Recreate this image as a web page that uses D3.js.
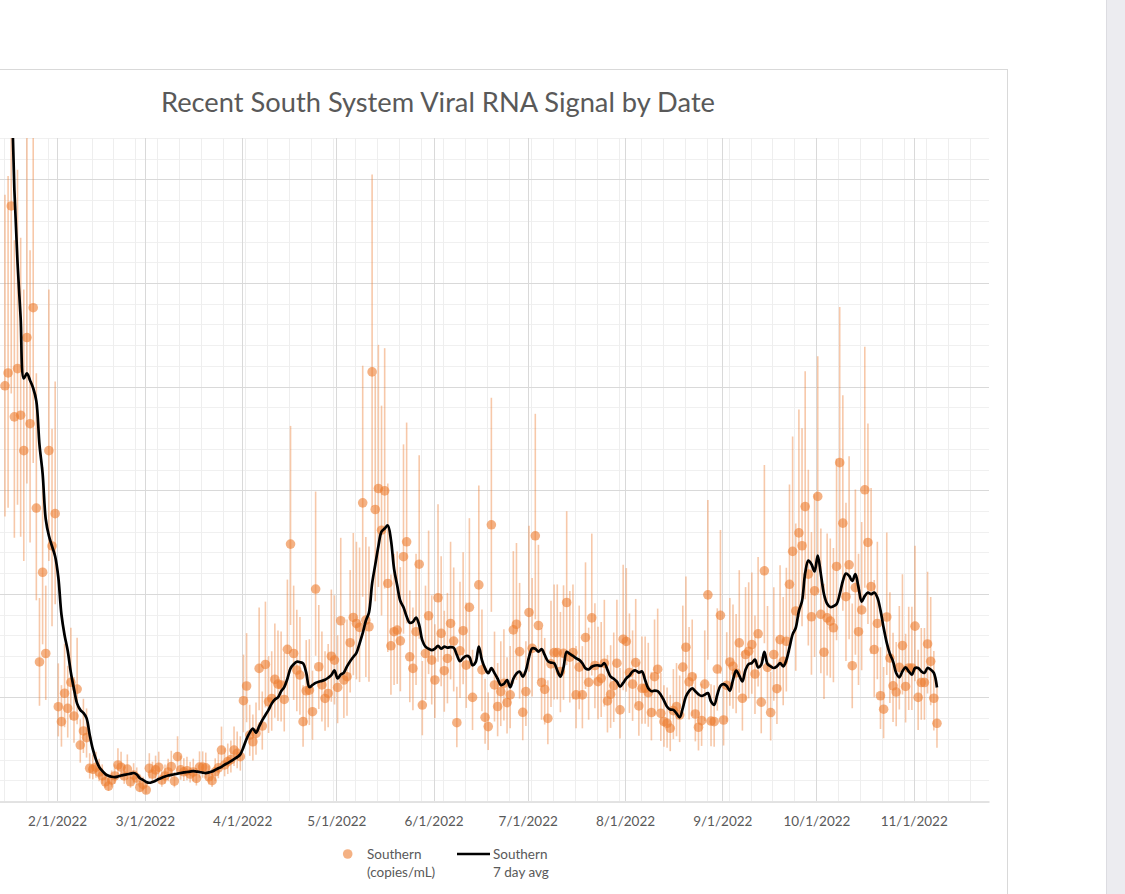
<!DOCTYPE html>
<html><head><meta charset="utf-8">
<script src="https://cdn.jsdelivr.net/npm/d3@7"></script>
<style>
html,body{margin:0;padding:0;background:#fff;overflow:hidden}
svg{display:block}
</style></head><body>
<svg id="c" width="1125" height="894"></svg>
<script>
// ---------- DATA ----------
const firstSampleDay = [2022, 0, 15];   // 1/15/2022, one sample per day after that
const southern = [
 2004,2066,2872,1854,2087,1862,1691,2237,1821,2381,
 1414,671,1104,712,1691,1231,1387,455,383,520,
 447,573,410,540,270,338,306,158,153,163,
 140,121,93,72,101,121,174,163,121,154,
 93,125,111,66,80,53,158,130,150,163,
 101,121,140,166,96,214,150,141,146,130,
 140,109,164,164,160,117,98,141,160,246,
 174,190,200,246,230,214,484,555,318,286,
 326,640,362,659,479,495,587,564,560,490,
 732,1240,712,632,608,383,532,535,431,1023,
 648,560,495,519,699,680,548,870,584,600,
 764,886,857,838,1439,873,841,2071,1407,1508,
 1307,1497,1050,749,817,825,773,1179,1251,696,
 640,817,1143,463,712,894,680,584,981,809,
 629,688,857,772,378,725,822,656,935,500,
 null,1043,633,404,359,1333,560,456,528,568,
 475,512,826,853,721,428,528,910,737,1280,
 847,572,539,399,662,716,716,625,713,958,
 694,716,512,646,512,789,573,884,654,576,
 592,665,483,515,557,665,440,781,770,620,
 564,668,459,544,544,523,427,600,636,423,
 383,375,351,436,456,415,646,742,575,600,
 420,356,388,564,995,386,383,637,896,391,
 558,671,650,618,763,496,707,723,755,613,
 807,477,1111,645,427,707,542,779,674,771,
 1046,1205,917,1294,1232,1421,1095,889,1014,1470,
 901,718,884,868,836,1132,1633,1341,986,1140,
 653,1030,817,922,1502,1248,1035,731,857,508,
 443,888,690,556,526,645,750,553,642,642,
 844,500,572,572,758,674,496,375
];
const southernAvg7 = [
 4300,3900,3500,2950,2600,2330,2040,2064,2030,1992,
 1930,1720,1580,1360,1280,1230,1180,1080,900,800,
 725,620,540,470,440,425,400,320,250,200,
 165,145,130,122,117,115,118,123,126,129,
 132,135,128,110,102,92,88,92,98,106,
 112,118,123,126,129,132,135,138,140,142,
 144,142,140,137,135,138,142,150,158,165,
 175,183,192,202,212,225,260,300,330,350,
 330,360,390,415,440,470,490,500,530,550,
 590,640,660,672,670,664,620,550,560,570,
 576,580,585,595,608,630,592,610,620,650,
 675,695,715,760,810,870,910,1050,1140,1230,
 1300,1315,1330,1260,1120,1040,965,935,890,860,
 865,885,850,775,745,735,728,735,749,735,
 745,740,743,740,705,675,690,700,695,655,
 670,745,680,640,617,641,617,590,560,565,
 584,549,590,615,625,600,630,695,737,735,
 721,733,705,675,668,665,630,600,645,720,
 710,700,689,681,665,640,635,648,654,655,
 652,665,633,600,590,576,552,570,592,605,
 625,630,620,625,584,544,530,533,530,512,
 485,455,442,440,423,404,448,504,530,544,
 530,515,507,513,521,480,464,513,556,564,
 555,532,585,629,606,577,634,661,666,682,
 645,658,720,661,650,642,650,665,650,680,
 740,804,836,917,965,1100,1160,1143,1108,1184,
 1095,998,952,936,940,950,998,1062,1098,1087,
 1062,1095,1030,962,990,1006,998,1006,982,920,
 836,763,710,674,618,597,626,645,626,610,
 642,642,626,618,642,634,618,548
];
// month labels visible in the crop (the Jan label and y labels lie off the left edge)
const monthTickLabels = ['2/1/2022','3/1/2022','4/1/2022','5/1/2022','6/1/2022',
  '7/1/2022','8/1/2022','9/1/2022','10/1/2022','11/1/2022'];
const yGridValues = [500,1000,1500,2000,2500,3000];
const yMax = 3200, yMinorStep = 100;
const errPlusPct = 46, errMinusPct = 31.5;   // error bar extent
const axisStart = '2022-01-01', axisEnd = '2022-11-25';
const titleText = 'Recent South System Viral RNA Signal by Date';
const legendDots = ['Southern', '(copies/mL)'];
const legendLine = ['Southern', '7 day avg'];

// ---------- LAYOUT ----------
const svg = d3.select('#c');
const FONT = 'Lato, "Open Sans", sans-serif';
const TXT = '#595959';
const dayPx = 856.7 / 273;
const plotTop = 138, plotBottom = 801;
const xFeb1 = 57;
const parse = s => { const [y,m,d] = s.split('-').map(Number); return new Date(Date.UTC(y, m-1, d)); };
const d0 = parse(axisStart), d1 = parse(axisEnd);
const plotLeft = xFeb1 - 31 * dayPx;
const plotRight = plotLeft + ((d1 - d0) / 864e5) * dayPx;

const x = d3.scaleUtc().domain([d0, d1]).range([plotLeft, plotRight]);
const y = d3.scaleLinear().domain([0, yMax]).range([plotBottom, plotTop]);

// page strip on the right
svg.append('rect').attr('x', 1106).attr('y', 0).attr('width', 19).attr('height', 894).attr('fill', '#ececf0');
svg.append('line').attr('x1', 1106.5).attr('x2', 1106.5).attr('y1', 0).attr('y2', 894).attr('stroke', '#dcdce1');

// chart area frame
svg.append('rect').attr('x', -200).attr('y', 69.5).attr('width', 1207.5).attr('height', 1000)
  .attr('fill', '#fff').attr('stroke', '#d9d9d9').attr('stroke-width', 1);

// title
svg.append('text').attr('x', 438).attr('y', 111.5).attr('text-anchor', 'middle')
  .attr('font-family', FONT).attr('font-size', 26).attr('fill', TXT)
  .attr('textLength', 554).attr('lengthAdjust', 'spacingAndGlyphs')
  .text(titleText);

const defs = svg.append('defs');
defs.append('clipPath').attr('id', 'plotclip').append('rect')
  .attr('x', plotLeft).attr('y', plotTop).attr('width', plotRight - plotLeft).attr('height', plotBottom - plotTop);

const grid = svg.append('g');
// minor horizontal
const yMinor = d3.range(0, yMax + 1, yMinorStep).filter(v => v % 500 !== 0);
grid.selectAll('.hm').data(yMinor).join('line')
  .attr('x1', plotLeft).attr('x2', plotRight)
  .attr('y1', d => Math.round(y(d)) + 0.5).attr('y2', d => Math.round(y(d)) + 0.5)
  .attr('stroke', '#f0f0f0').attr('stroke-width', 1);
// minor vertical (weekly, Saturdays)
const weeks = d3.utcSaturday.range(d0, d1);
grid.selectAll('.vm').data(weeks).join('line')
  .attr('x1', d => Math.round(x(d)) + 0.5).attr('x2', d => Math.round(x(d)) + 0.5)
  .attr('y1', plotTop).attr('y2', plotBottom)
  .attr('stroke', '#eeeeee').attr('stroke-width', 1);
// major horizontal
grid.selectAll('.hM').data(yGridValues).join('line')
  .attr('x1', plotLeft).attr('x2', plotRight)
  .attr('y1', d => Math.round(y(d)) + 0.5).attr('y2', d => Math.round(y(d)) + 0.5)
  .attr('stroke', '#d9d9d9').attr('stroke-width', 1);
// major vertical (months)
const parseTick = s => { const [m,d,yy] = s.split('/').map(Number); return new Date(Date.UTC(yy, m-1, d)); };
const monthDates = monthTickLabels.map(parseTick);
grid.selectAll('.vM').data(monthDates).join('line')
  .attr('x1', d => Math.round(x(d)) + 0.5).attr('x2', d => Math.round(x(d)) + 0.5)
  .attr('y1', plotTop).attr('y2', plotBottom)
  .attr('stroke', '#d9d9d9').attr('stroke-width', 1);

// x axis
const xAxis = d3.axisBottom(x).tickValues(monthDates)
  .tickFormat((d, i) => monthTickLabels[i]).tickSize(0).tickPadding(0);
const gx = svg.append('g').attr('transform', `translate(0,${plotBottom + 0.5})`).call(xAxis);
gx.select('.domain').attr('stroke', '#c6c6c6').attr('stroke-width', 1);
gx.selectAll('text').attr('font-family', FONT).attr('font-size', 13.5).attr('fill', TXT)
  .attr('dy', 0).attr('y', 24.5);

// data
const dayDate = i => new Date(Date.UTC(firstSampleDay[0], firstSampleDay[1], firstSampleDay[2] + i, 10));
const pts = southern.map((v, i) => ({ date: dayDate(i), v })).filter(d => d.v != null);
const avg = southernAvg7.map((v, i) => ({ date: dayDate(i), v }));

const plot = svg.append('g').attr('clip-path', 'url(#plotclip)');
plot.append('g').selectAll('line').data(pts).join('line')
  .attr('x1', d => x(d.date)).attr('x2', d => x(d.date))
  .attr('y1', d => y(d.v * (1 + errPlusPct / 100)))
  .attr('y2', d => y(d.v * (1 - errMinusPct / 100)))
  .attr('stroke', '#ED7D31').attr('stroke-opacity', 0.42).attr('stroke-width', 1.6);
plot.append('g').selectAll('circle').data(pts).join('circle')
  .attr('cx', d => x(d.date)).attr('cy', d => y(d.v)).attr('r', 4.8)
  .attr('fill', '#ED7D31').attr('fill-opacity', 0.6);
plot.append('path').datum(avg)
  .attr('d', d3.line().x(d => x(d.date)).y(d => y(d.v)).curve(d3.curveCatmullRom.alpha(0.5)))
  .attr('fill', 'none').attr('stroke', '#000').attr('stroke-width', 2.7).attr('stroke-linejoin', 'round');

// legend
const lg = svg.append('g').attr('font-family', FONT).attr('font-size', 13.5).attr('fill', TXT);
lg.append('circle').attr('cx', 347.7).attr('cy', 854).attr('r', 4.8).attr('fill', '#ED7D31').attr('fill-opacity', 0.6);
lg.append('text').attr('x', 367).attr('y', 858.5).text(legendDots[0]);
lg.append('text').attr('x', 367).attr('y', 876.5).text(legendDots[1]);
lg.append('line').attr('x1', 457).attr('x2', 490).attr('y1', 854).attr('y2', 854).attr('stroke', '#000').attr('stroke-width', 2.6);
lg.append('text').attr('x', 493).attr('y', 858.5).text(legendLine[0]);
lg.append('text').attr('x', 493).attr('y', 876.5).text(legendLine[1]);
</script>
</body></html>
